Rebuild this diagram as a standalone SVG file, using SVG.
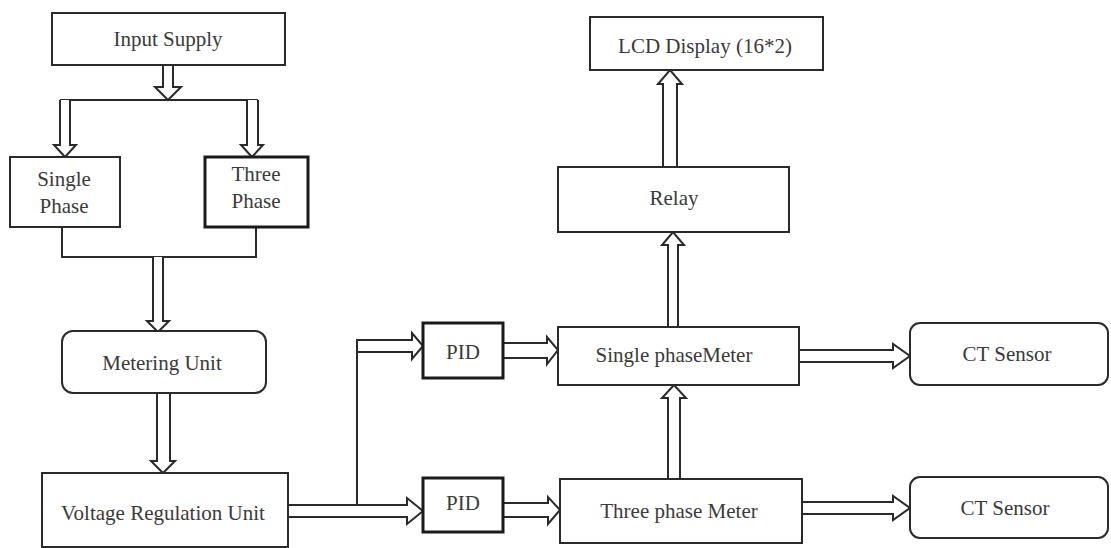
<svg xmlns="http://www.w3.org/2000/svg" width="1111" height="548" viewBox="0 0 1111 548">
  <style>
    .box { fill: #fff; stroke: #2a2a2a; stroke-width: 2; }
    .thick { fill: #fff; stroke: #1a1a1a; stroke-width: 3; }
    .lbl { font-family: "Liberation Serif", "Times New Roman", serif; font-size: 21px; fill: #3a3a3a; text-anchor: middle; }
    .arw { fill: #fff; stroke: #2a2a2a; stroke-width: 2; stroke-linejoin: miter; }
    .ln { fill: none; stroke: #2a2a2a; stroke-width: 2; }
  </style>
  <rect width="1111" height="548" fill="#fff"/>

  <!-- connectors: hollow block arrows and plain lines -->
  <g id="connectors">
    <!-- Input Supply down to splitter bar -->
    <path class="arw" d="M163,65 L163,87 L155,87 L168,100 L181,87 L173,87 L173,65"/>
    <path class="ln" d="M60,100 L258,100"/>
    <!-- splitter to Single Phase -->
    <path class="arw" d="M60,100 L60,145 L54,145 L65,157 L76,145 L70,145 L70,100"/>
    <!-- splitter to Three Phase -->
    <path class="arw" d="M247,100 L247,145 L241,145 L252,157 L263,145 L258,145 L258,100"/>
    <!-- merge of both phases -->
    <path class="ln" d="M62,227 L62,257 L256,257 L256,227"/>
    <!-- merge to Metering Unit -->
    <path class="arw" d="M153,257 L153,321 L147,321 L158,332 L169,321 L163,321 L163,257"/>
    <!-- Metering Unit to Voltage Regulation Unit -->
    <path class="arw" d="M157,393 L157,461 L151,461 L163,473 L175,461 L170,461 L170,393"/>
    <!-- Voltage Regulation Unit to lower PID, with branch to upper PID -->
    <path class="arw" d="M288,505 L407,505 L407,498 L423,511 L407,524 L407,517 L288,517"/>
    <path class="arw" d="M357,505 L357,340 L412,340 L412,333 L423,346 L412,359 L412,352 L357,352"/>
    <!-- PID to meters -->
    <path class="arw" d="M503,343 L547,343 L547,337 L558,350 L547,364 L547,358 L503,358"/>
    <path class="arw" d="M503,503 L548,503 L548,497 L560,510 L548,524 L548,517 L503,517"/>
    <!-- Three phase meter up to Single phase meter -->
    <path class="arw" d="M668,479 L668,398 L662,398 L674,385 L686,398 L680,398 L680,479"/>
    <!-- Single phase meter up to Relay -->
    <path class="arw" d="M668,327 L668,245 L662,245 L673,232 L684,245 L678,245 L678,327"/>
    <!-- Relay up to LCD -->
    <path class="arw" d="M663,167 L663,84 L658,84 L670,70 L682,84 L677,84 L677,167"/>
    <!-- meters to CT sensors -->
    <path class="arw" d="M799,350 L893,350 L893,344 L910,356 L893,368 L893,362 L799,362"/>
    <path class="arw" d="M802,502 L893,502 L893,496 L910,508 L893,520 L893,514 L802,514"/>
  </g>

  <g id="input-supply">
    <rect class="box" x="52" y="13" width="233" height="52"/>
    <text class="lbl" x="168" y="46">Input Supply</text>
  </g>
  <g id="single-phase">
    <rect class="box" x="10" y="157" width="110" height="70"/>
    <text class="lbl" x="64" y="186">Single</text>
    <text class="lbl" x="64" y="213">Phase</text>
  </g>
  <g id="three-phase">
    <rect class="thick" x="205" y="157" width="103" height="70"/>
    <text class="lbl" x="256" y="181">Three</text>
    <text class="lbl" x="256" y="208">Phase</text>
  </g>
  <g id="metering-unit">
    <rect class="box" x="62" y="331" width="204" height="62" rx="11"/>
    <text class="lbl" x="162" y="370">Metering Unit</text>
  </g>
  <g id="voltage-regulation-unit">
    <rect class="box" x="42" y="473" width="246" height="74"/>
    <text class="lbl" x="163" y="520">Voltage Regulation Unit</text>
  </g>
  <g id="pid-upper">
    <rect class="thick" x="423" y="323" width="80" height="55"/>
    <text class="lbl" x="463" y="359">PID</text>
  </g>
  <g id="pid-lower">
    <rect class="thick" x="423" y="478" width="80" height="54"/>
    <text class="lbl" x="463" y="510">PID</text>
  </g>
  <g id="single-phase-meter">
    <rect class="box" x="558" y="327" width="241" height="58"/>
    <text class="lbl" x="674" y="362">Single phaseMeter</text>
  </g>
  <g id="three-phase-meter">
    <rect class="box" x="560" y="479" width="242" height="64"/>
    <text class="lbl" x="679" y="518">Three phase Meter</text>
  </g>
  <g id="relay">
    <rect class="box" x="558" y="167" width="231" height="65"/>
    <text class="lbl" x="674" y="205">Relay</text>
  </g>
  <g id="lcd-display">
    <rect class="box" x="590" y="17" width="233" height="53"/>
    <text class="lbl" x="705" y="53">LCD Display (16*2)</text>
  </g>
  <g id="ct-sensor-upper">
    <rect class="box" x="910" y="323" width="198" height="62" rx="10"/>
    <text class="lbl" x="1007" y="361">CT Sensor</text>
  </g>
  <g id="ct-sensor-lower">
    <rect class="box" x="910" y="477" width="198" height="61" rx="10"/>
    <text class="lbl" x="1005" y="515">CT Sensor</text>
  </g>
</svg>
